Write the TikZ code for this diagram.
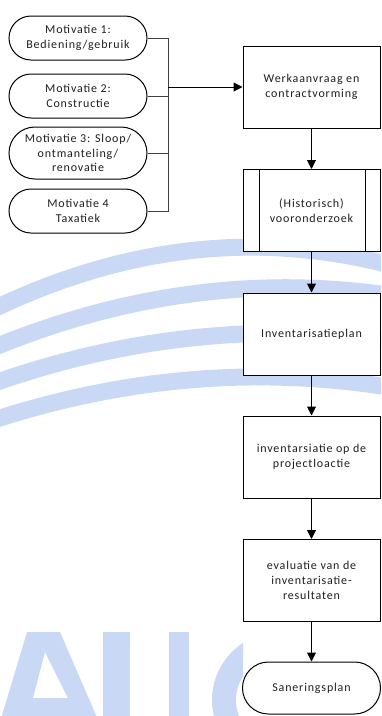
\documentclass[tikz,border=0pt]{standalone}
\usepackage{fontspec}
\setmainfont{Carlito}[LetterSpace=7]
\usetikzlibrary{arrows.meta}
\definecolor{wmblue}{RGB}{201,216,245}
\begin{document}
\begin{tikzpicture}[x=1pt,y=-1pt,
  band/.style={draw=wmblue,line width=17pt},
  wm/.style={fill=wmblue,draw=none},
  txt/.style={align=center,font=\fontsize{12}{14.8}\selectfont,inner sep=0pt,text=black!88},
  term/.style={txt,draw,line width=1pt,fill=white,minimum width=138pt,minimum height=44pt,rounded corners=22pt},
  tallterm/.style={term,minimum height=52pt,rounded corners=26pt},
  proc/.style={txt,draw,line width=1pt,fill=white,minimum width=137pt,minimum height=82pt},
  bus/.style={draw=black!75,line width=0.7pt},
  flow/.style={draw=black,line width=1pt,-{Triangle[length=9pt,width=9pt]}}]
\useasboundingbox (0,0) rectangle (381,716);
% watermark
\begin{scope}
  \clip (0,0) rectangle (381,716);
  \draw[band] plot[domain=-10:391,samples=50] (\x,{306-0.468*\x+0.000928*\x*\x});
  \draw[band] plot[domain=-10:391,samples=50] (\x,{345-0.401*\x+0.000708*\x*\x});
  \draw[band] plot[domain=-10:391,samples=50] (\x,{381-0.3415*\x+0.000614*\x*\x});
  \draw[band] plot[domain=-10:391,samples=50] (\x,{418-0.3167*\x+0.000611*\x*\x});
  \fill[wm,even odd rule] (0,722) -- (27,632) -- (60,632) -- (99,722) -- cycle
     (45,652) -- (33,698) -- (68,698) -- cycle;
  \fill[wm] (103,632) rectangle (130,722);
  \fill[wm] (169,632) rectangle (189,722);
  \begin{scope}
    \clip (0,600) rectangle (243,716);
    \fill[wm,even odd rule] (280,700) circle[radius=68pt] (280,700) circle[radius=44pt];
  \end{scope}
\end{scope}
% nodes
\node[term] (m1) at (78,38) {Motivatie 1:\\Bediening/gebruik};
\node[term] (m2) at (78,96) {Motivatie 2:\\Constructie};
\node[tallterm] (m3) at (78,153) {Motivatie 3: Sloop/\\ontmanteling/\\renovatie};
\node[term] (m4) at (78,211) {Motivatie 4\\Taxatiek};
\node[proc] (w) at (311.5,87) {Werkaanvraag en\\contractvorming};
\node[proc] (h) at (311.5,210.5) {(Historisch)\\vooronderzoek};
\draw[line width=1pt] ([xshift=17pt]h.north west) -- ([xshift=17pt]h.south west)
  ([xshift=-15pt]h.north east) -- ([xshift=-15pt]h.south east);
\node[proc] (ip) at (311.5,334) {Inventarisatieplan};
\node[proc] (iop) at (311.5,457) {inventarsiatie op de\\projectloactie};
\node[proc] (ev) at (311.5,580.5) {evaluatie van de\\inventarisatie-\\resultaten};
\node[tallterm] (sp) at (311.5,688) {Saneringsplan};
% connectors
\coordinate (bj) at (168,87);
\draw[bus] (m1.east) -| (bj);
\draw[bus] (m2.east) -| (bj);
\draw[bus] (m3.east) -| (bj);
\draw[bus] (m4.east) -| (bj);
\draw[flow] (bj) -- (w.west);
\draw[flow] (w) -- (h);
\draw[flow] (h) -- (ip);
\draw[flow] (ip) -- (iop);
\draw[flow] (iop) -- (ev);
\draw[flow] (ev) -- (sp);
\end{tikzpicture}
\end{document}
